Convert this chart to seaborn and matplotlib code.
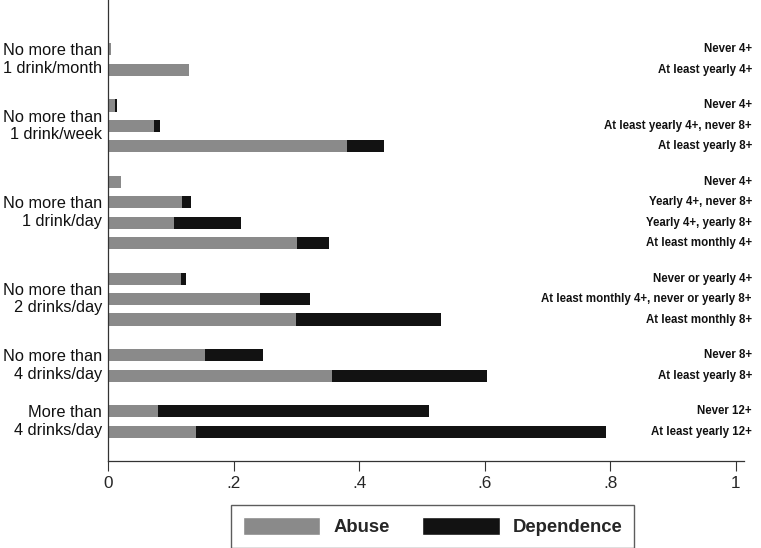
import numpy as np
import pandas as pd
import matplotlib.pyplot as plt
import seaborn as sns
from matplotlib.patches import Patch

# --- data ---
groups = [
    "No more than\n1 drink/month", "No more than\n1 drink/month",
    "No more than\n1 drink/week", "No more than\n1 drink/week", "No more than\n1 drink/week",
    "No more than\n1 drink/day", "No more than\n1 drink/day", "No more than\n1 drink/day",
    "No more than\n1 drink/day",
    "No more than\n2 drinks/day", "No more than\n2 drinks/day", "No more than\n2 drinks/day",
    "No more than\n4 drinks/day", "No more than\n4 drinks/day",
    "More than\n4 drinks/day", "More than\n4 drinks/day",
]
row_labels = [
    "Never 4+", "At least yearly 4+",
    "Never 4+", "At least yearly 4+, never 8+", "At least yearly 8+",
    "Never 4+", "Yearly 4+, never 8+", "Yearly 4+, yearly 8+", "At least monthly 4+",
    "Never or yearly 4+", "At least monthly 4+, never or yearly 8+", "At least monthly 8+",
    "Never 8+", "At least yearly 8+",
    "Never 12+", "At least yearly 12+",
]
abuse = [0.005, 0.129,
         0.011, 0.073, 0.381,
         0.021, 0.118, 0.105, 0.301,
         0.116, 0.242, 0.300,
         0.154, 0.356,
         0.079, 0.140]
dependence = [0.0, 0.0,
              0.003, 0.010, 0.058,
              0.0, 0.014, 0.107, 0.051,
              0.009, 0.080, 0.231,
              0.093, 0.247,
              0.433, 0.653]

GRAY = "#8a8a8a"
BLACK = "#121212"

# row positions: step 1 inside a group, 1.75 between groups
pos = []
p = 0.0
for i, g in enumerate(groups):
    if i > 0:
        p += 1.0 if g == groups[i - 1] else 1.75
    pos.append(p)

df = pd.DataFrame({"group": groups, "label": row_labels,
                   "abuse": abuse, "dependence": dependence, "pos": pos})
df["total"] = df["abuse"] + df["dependence"]

sns.set_style("white")
plt.rcParams["font.family"] = ["Liberation Sans", "DejaVu Sans"]

fig = plt.figure(figsize=(7.61, 5.48), dpi=100)
ax = fig.add_axes([0.1419, 0.1593, 0.9777 - 0.1419, 1 - 0.1593])

sns.barplot(data=df, x="total", y="pos", orient="y", native_scale=True,
            color=BLACK, saturation=1, width=0.6, linewidth=0, errorbar=None, ax=ax)
sns.barplot(data=df, x="abuse", y="pos", orient="y", native_scale=True,
            color=GRAY, saturation=1, width=0.6, linewidth=0, errorbar=None, ax=ax)

ax.set_xlim(0, 1.013)
ax.set_ylim(df["pos"].max() + 1.42, -2.42)
ax.set_yticks([])
ax.set_xlabel("")
ax.set_ylabel("")
ax.set_xticks([0, 0.2, 0.4, 0.6, 0.8, 1.0])
ax.set_xticklabels(["0", ".2", ".4", ".6", ".8", "1"], fontsize=12.3)
ax.tick_params(axis="x", direction="out", length=7, width=0.8, color="#333333", pad=4,
               bottom=True)
sns.despine(ax=ax, top=True, right=True)
for s in ["left", "bottom"]:
    ax.spines[s].set_color("#333333")
    ax.spines[s].set_linewidth(0.9)

# labels of each row, right side
for _, r in df.iterrows():
    ax.text(1.0255, r["pos"], r["label"], ha="right", va="center",
            fontsize=8.3, fontweight="bold", color="#111111", clip_on=False)

# group labels, left side
for g, sub in df.groupby("group", sort=False):
    ax.text(-0.0095, sub["pos"].mean(), g, ha="right", va="center",
            multialignment="right", fontsize=11.8, linespacing=1.2,
            color="#111111", clip_on=False)

handles = [Patch(facecolor=GRAY, label="Abuse"),
           Patch(facecolor=BLACK, label="Dependence")]
leg = fig.legend(handles=handles, loc="center", bbox_to_anchor=(0.5683, 0.0394),
                 ncol=2, prop={"weight": "bold", "size": 13.3}, frameon=True,
                 fancybox=False, edgecolor="#333333", handlelength=4.2,
                 handleheight=1.1, handletextpad=0.7, columnspacing=1.75,
                 borderpad=0.65)
leg.get_frame().set_linewidth(1)

fig.savefig("out.png", dpi=100)
